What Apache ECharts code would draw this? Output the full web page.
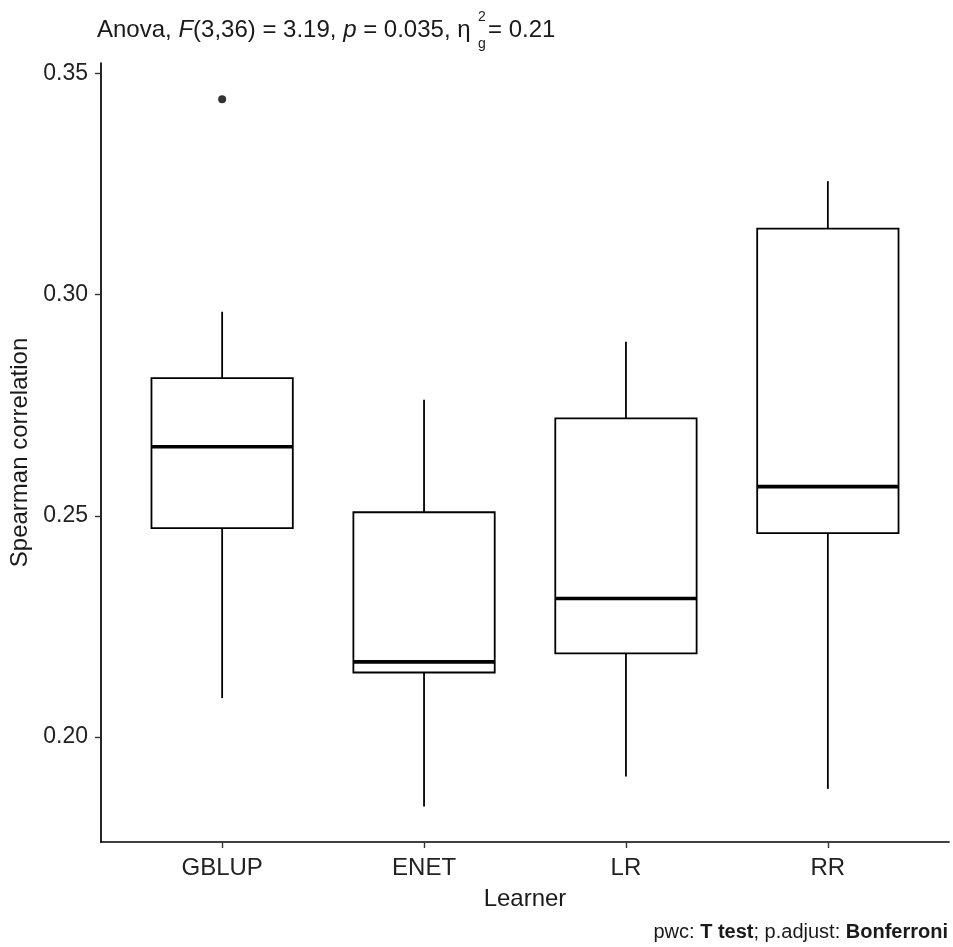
<!DOCTYPE html>
<html>
<head>
<meta charset="utf-8">
<script src="https://cdn.jsdelivr.net/npm/echarts@6/dist/echarts.min.js"></script>
<style>
html,body{margin:0;padding:0;background:#fff;}
#chart{width:953px;height:947px;}
</style>
</head>
<body>
<div id="chart"></div>
<script>
// ---- data ----
var categories = ['GBLUP', 'ENET', 'LR', 'RR'];
var whiskerLow  = [0.2088, 0.1843, 0.1911, 0.1883];
var q1          = [0.2472, 0.2146, 0.2189, 0.2461];
var medians     = [0.2656, 0.2170, 0.2313, 0.2566];
var q3          = [0.2811, 0.2508, 0.2720, 0.3149];
var whiskerHigh = [0.2961, 0.2762, 0.2893, 0.3256];
var outlierCategory = ['GBLUP'];
var outlierValue    = [0.3441];
var yTicks = [0.20, 0.25, 0.30, 0.35];

var FONT = 'Liberation Sans, Arial, sans-serif';

var boxData = categories.map(function (c, i) {
  return [i + 1, whiskerLow[i], q1[i], medians[i], q3[i], whiskerHigh[i]];
});
var outlierData = outlierCategory.map(function (c, i) {
  return [categories.indexOf(c) + 1, outlierValue[i]];
});

var chart = echarts.init(document.getElementById('chart'), null, {renderer: 'canvas'});

function renderBox(params, api) {
  var x = api.value(0);
  var pLow = api.coord([x, api.value(1)]);
  var pQ1 = api.coord([x, api.value(2)]);
  var pMed = api.coord([x, api.value(3)]);
  var pQ3 = api.coord([x, api.value(4)]);
  var pHigh = api.coord([x, api.value(5)]);
  var w = api.size([0.70, 0])[0];
  var cx = pMed[0];
  var left = cx - w / 2, right = cx + w / 2;
  var thin = {stroke: '#000', lineWidth: 1.8, fill: null};
  return {
    type: 'group',
    children: [
      {type: 'line', shape: {x1: cx, y1: pQ3[1], x2: cx, y2: pHigh[1]}, style: thin},
      {type: 'line', shape: {x1: cx, y1: pQ1[1], x2: cx, y2: pLow[1]}, style: thin},
      {type: 'rect', shape: {x: left, y: pQ3[1], width: w, height: pQ1[1] - pQ3[1]},
        style: {stroke: '#000', lineWidth: 1.8, fill: '#fff'}},
      {type: 'line', shape: {x1: left, y1: pMed[1], x2: right, y2: pMed[1]},
        style: {stroke: '#000', lineWidth: 3.6}}
    ]
  };
}

var option = {
  backgroundColor: '#fff',
  animation: false,
  grid: {left: 101, top: 63, width: 848, height: 779, containLabel: false, outerBoundsMode: 'none'},
  xAxis: {
    type: 'value', min: 0.4, max: 4.6,
    name: 'Learner', nameLocation: 'middle', nameGap: 45,
    nameTextStyle: {fontFamily: FONT, fontSize: 24, color: '#1a1a1a'},
    axisLine: {show: true, lineStyle: {color: '#000', width: 1.7}},
    axisTick: {show: true, customValues: [1, 2, 3, 4], length: 6, lineStyle: {color: '#333', width: 1.4}},
    axisLabel: {
      customValues: [1, 2, 3, 4], margin: 14,
      fontFamily: FONT, fontSize: 24, color: '#222',
      formatter: function (v) { return categories[Math.round(v) - 1]; }
    },
    splitLine: {show: false}
  },
  yAxis: {
    type: 'value', min: 0.1763, max: 0.3523,
    name: 'Spearman correlation', nameLocation: 'middle', nameGap: 64, nameRotate: 90,
    nameTextStyle: {fontFamily: FONT, fontSize: 24, color: '#1a1a1a'},
    axisLine: {show: true, lineStyle: {color: '#000', width: 1.7}},
    axisTick: {show: true, customValues: yTicks, length: 6, lineStyle: {color: '#333', width: 1.4}},
    axisLabel: {
      customValues: yTicks, margin: 13,
      fontFamily: FONT, fontSize: 23, color: '#222',
      formatter: function (v) { return v.toFixed(2); }
    },
    splitLine: {show: false}
  },
  series: [
    {
      type: 'custom',
      renderItem: renderBox,
      data: boxData,
      encode: {x: 0, y: [1, 2, 3, 4, 5]},
      z: 2
    },
    {
      type: 'scatter',
      data: outlierData,
      symbol: 'circle',
      symbolSize: 8,
      itemStyle: {color: '#000'},
      z: 3
    }
  ],
  graphic: [
    {
      type: 'text', left: 97, top: 18,
      style: {
        text: 'Anova, {i|F}(3,36) = 3.19, {i|p} = 0.035, η',
        font: '24px ' + FONT, fill: '#1a1a1a',
        rich: {i: {fontStyle: 'italic', fontFamily: FONT, fontSize: 24}}
      }
    },
    {type: 'text', left: 478, top: 10, style: {text: '2', font: '14px ' + FONT, fill: '#1a1a1a'}},
    {type: 'text', left: 478, top: 37, style: {text: 'g', font: '14px ' + FONT, fill: '#1a1a1a'}},
    {type: 'text', left: 488, top: 18, style: {text: '= 0.21', font: '24px ' + FONT, fill: '#1a1a1a'}},
    {
      type: 'text', right: 5, top: 922,
      style: {
        text: 'pwc: {b|T test}; p.adjust: {b|Bonferroni}',
        font: '20px ' + FONT, fill: '#1a1a1a',
        rich: {b: {fontWeight: 'bold', fontFamily: FONT, fontSize: 20}}
      }
    }
  ]
};
chart.setOption(option);
</script>
</body>
</html>
